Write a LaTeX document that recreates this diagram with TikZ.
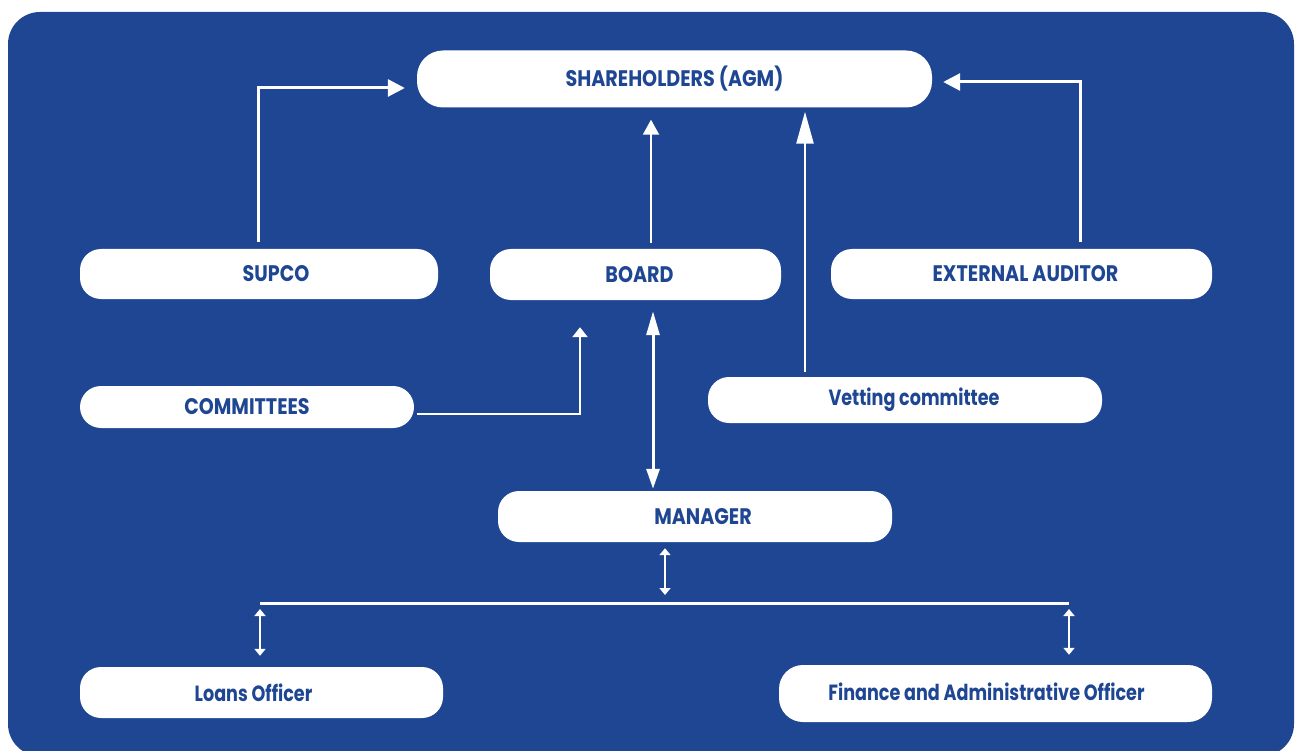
\documentclass[tikz,border=0pt]{standalone}
\usepackage{fontspec}
\setmainfont{Poppins}[FakeStretch=0.85]
\newfontfamily\lowfont{Poppins}[FakeStretch=0.80]
\usetikzlibrary{arrows.meta}
\definecolor{bg}{RGB}{30,70,146}
\begin{document}
\begin{tikzpicture}[x=1pt,y=-1pt,
  box/.style={fill=white, rounded corners=21pt, inner sep=0pt, text=bg,
    font=\bfseries\fontsize{22.5}{24}\selectfont},
  lowbox/.style={box, font=\lowfont\bfseries\fontsize{22}{24}\selectfont},
  wline/.style={draw=white, line width=#1},
  bigarrow/.style={wline=3pt, -{Triangle[length=17pt,width=17pt]}},
  thinarrow/.style={wline=2pt, -{Triangle[length=15pt,width=16pt]}},
  longarrow/.style={wline=2.5pt, -{Triangle[length=32pt,width=17pt]}},
  midarrow/.style={wline=2.5pt, -{Triangle[length=10pt,width=15pt]}},
  bmarrow/.style={wline=3pt, {Triangle[length=24pt,width=13pt]}-{Triangle[length=20pt,width=13pt]}},
  smallarrow/.style={wline=2.5pt, {Triangle[length=7pt,width=11pt]}-{Triangle[length=7pt,width=11pt]}}
]
\useasboundingbox (0,0) rectangle (1295,751);
\fill[white] (0,0) rectangle (1295,751);
\fill[bg, rounded corners=32pt] (8,12) rectangle (1294,756);

% boxes
\node[box, rounded corners=26pt, minimum width=515pt, minimum height=57pt] (sh) at (674.5,79) {SHAREHOLDERS (AGM)};
\node[box, minimum width=358pt, minimum height=50pt] (supco) at (259,274) {\hspace*{34pt}SUPCO};
\node[box, minimum width=291pt, minimum height=51pt] (board) at (635.5,274.5) {\hspace*{8pt}BOARD};
\node[box, minimum width=381pt, minimum height=50pt] (ext) at (1021.5,274) {\hspace*{8pt}EXTERNAL AUDITOR};
\node[box, minimum width=334pt, minimum height=42pt] (comm) at (247,407) {COMMITTEES};
\node[lowbox, minimum width=394pt, minimum height=46pt] (vet) at (905,400) {\hspace*{18pt}Vetting committee};
\node[box, minimum width=394pt, minimum height=51pt] (mgr) at (695,516.5) {\hspace*{16pt}MANAGER};
\node[lowbox, minimum width=363pt, minimum height=51pt] (loans) at (261.5,692.5) {Loans Officer\hspace*{16pt}};
\node[lowbox, rounded corners=24pt, minimum width=433pt, minimum height=57pt] (fin) at (995.5,693.5) {\raisebox{4pt}{Finance and Administrative Officer}\hspace*{18pt}};

% connectors to shareholders
\draw[bigarrow] ([xshift=-1pt,yshift=7pt]supco.north) |- ([xshift=-12pt,yshift=-9pt]sh.west);
\draw[bigarrow] ([xshift=59pt,yshift=7pt]ext.north) |- ([xshift=11pt,yshift=-3pt]sh.east);
\coordinate (b0) at ([xshift=15.5pt,yshift=6pt]board.north);
\draw[thinarrow] (b0) -- ([yshift=-12pt]b0 |- sh.south);
\coordinate (v0) at ([xshift=-100pt,yshift=5pt]vet.north);
\draw[longarrow] (v0) -- ([yshift=-4pt]v0 |- sh.south);

% committees to board
\draw[midarrow] ([xshift=3pt,yshift=-7pt]comm.east) -| ([xshift=-55.5pt,yshift=-27pt]board.south);

% board <-> manager
\coordinate (b1) at ([xshift=17.5pt,yshift=-11pt]board.south);
\draw[bmarrow] (b1) -- ([yshift=2pt]b1 |- mgr.north);

% manager <-> bus
\coordinate (busL) at (260,603.5);
\coordinate (busR) at (1069,603.5);
\coordinate (m1) at ([xshift=-30pt,yshift=-6pt]mgr.south);
\draw[smallarrow] (m1) -- ([yshift=8.5pt]m1 |- busL);
\draw[wline=3.5pt] (busL) -- (busR);
\draw[smallarrow] ([yshift=-5.5pt]busL) -- ([yshift=11pt]busL |- loans.north);
\draw[smallarrow] ([yshift=-5.5pt]busR) -- ([yshift=10pt]busR |- fin.north);
\end{tikzpicture}
\end{document}
